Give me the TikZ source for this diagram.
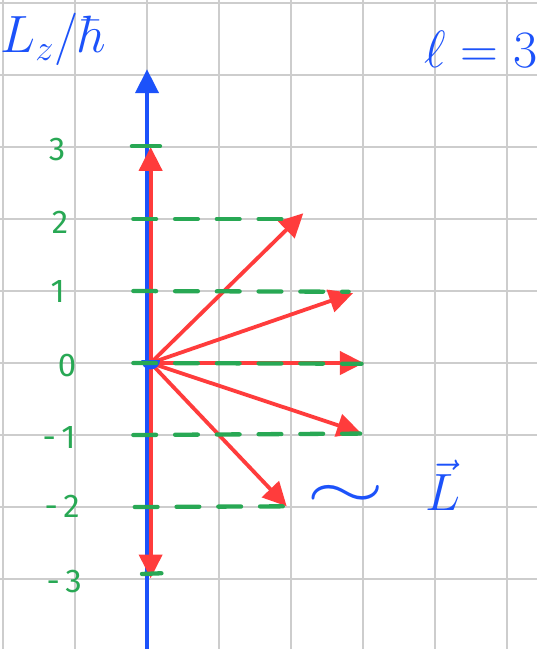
\documentclass[tikz,border=0pt]{standalone}
\usepackage{fontspec}
\setsansfont{Fira Sans}
\usetikzlibrary{arrows.meta}
\definecolor{penblue}{RGB}{28,82,250}
\definecolor{penred}{RGB}{255,60,60}
\definecolor{pengreen}{RGB}{40,168,84}
\definecolor{gridgray}{RGB}{205,205,205}
\tikzset{
  gridline/.style={gridgray, line width=1.1pt},
  axisline/.style={penblue, line width=1.4pt, -{Triangle[length=0.33cm,width=0.32cm]}},
  vecarrow/.style={penred, line width=1.5pt, -{Triangle[length=0.33cm,width=0.32cm]}},
  levelline/.style={pengreen, line width=1.7pt, line cap=round, dash pattern=on 9pt off 7.5pt},
  levelmark/.style={pengreen, line width=1.7pt, line cap=round},
  numlabel/.style={pengreen, font=\sffamily\fontsize{13}{13}\selectfont, inner sep=0pt},
  bluelabel/.style={penblue, inner sep=0pt}
}
\begin{document}
\begin{tikzpicture}[x=1cm,y=1cm]
\useasboundingbox (-2.042,-3.972) rectangle (5.417,5.042);
\fill[white] (-2.042,-3.972) rectangle (5.417,5.042);
% grid
\foreach \x in {-2,...,5} \draw[gridline] (\x,-3.972) -- (\x,5.042);
\foreach \y in {-3,...,5} \draw[gridline] (-2.042,\y) -- (5.417,\y);
% named points
\coordinate (axbot) at (0,-3.972);
\coordinate (axtop) at (0,4.08);
\coordinate (o) at (0.05,0);
\coordinate (m3) at (0.05,3.0);
\coordinate (mm3) at (0.05,-2.99);
\coordinate (m2) at (2.17,2.08);
\coordinate (m1) at (2.86,0.97);
\coordinate (m0) at (3.01,0);
\coordinate (mn1) at (2.97,-0.97);
\coordinate (mn2) at (1.94,-1.99);
% blue axis
\draw[axisline] (axbot) -- (axtop);
% red vectors
\draw[vecarrow] (o) -- (m3);
\draw[vecarrow] (o) -- (mm3);
\draw[vecarrow] (o) -- (m2);
\draw[vecarrow] (o) -- (m1);
\draw[vecarrow] (o) -- (m0);
\draw[vecarrow] (o) -- (mn1);
\draw[vecarrow] (o) -- (mn2);
% blue dot at origin
\fill[penblue] (-0.08,0.04) arc[start angle=180,end angle=360,radius=0.13] -- cycle;
% green level lines
\coordinate (g3a) at (-0.21,3.01); \coordinate (g3b) at (0.18,3.01);
\coordinate (g2a) at (-0.19,2.0); \coordinate (g2b) at (2.12,2.0);
\coordinate (g1a) at (-0.19,1.0); \coordinate (g1b) at (2.8,0.99);
\coordinate (g0a) at (-0.19,0.0); \coordinate (g0b) at (2.98,-0.01);
\coordinate (gn1a) at (-0.19,-1.0); \coordinate (gn1b) at (2.96,-0.98);
\coordinate (gn2a) at (-0.17,-2.0); \coordinate (gn2b) at (1.99,-1.99);
\coordinate (gn3a) at (-0.07,-2.93); \coordinate (gn3b) at (0.2,-2.92);
\draw[levelmark] (g3a) -- (g3b);
\draw[levelline] (g2a) -- (g2b);
\draw[levelline] (g1a) -- (g1b);
\draw[levelline] (g0a) -- (g0b);
\draw[levelline] (gn1a) -- (gn1b);
\draw[levelline] (gn2a) -- (gn2b);
\draw[levelmark] (gn3a) -- (gn3b);
% numbers
\node[numlabel] (l3) at (-1.25,2.96) {3};
\node[numlabel] (l2) at (-1.21,1.96) {2};
\node[numlabel] (l1) at (-1.24,0.99) {1};
\node[numlabel] (l0) at (-1.11,-0.03) {0};
\node[numlabel] (ln1) at (-1.22,-1.03) {-\,1};
\node[numlabel] (ln2) at (-1.18,-1.99) {-\,2};
\node[numlabel] (ln3) at (-1.15,-3.03) {-\,3};
% blue labels
\node[bluelabel, font=\fontsize{21}{21}\selectfont] (lz) at (-1.3,4.5) {$L_z/\hbar$};
\node[bluelabel, font=\fontsize{21}{21}\selectfont] (ell) at (4.64,4.36) {$\ell=3$};
\node[bluelabel, font=\fontsize{30}{30}\selectfont] (sim) at (2.76,-1.86) {\scalebox{1.6}[1]{$\sim$}};
\node[bluelabel, font=\fontsize{22}{22}\selectfont] (vecL) at (4.11,-1.7) {$\vec{L}$};
\end{tikzpicture}
\end{document}
